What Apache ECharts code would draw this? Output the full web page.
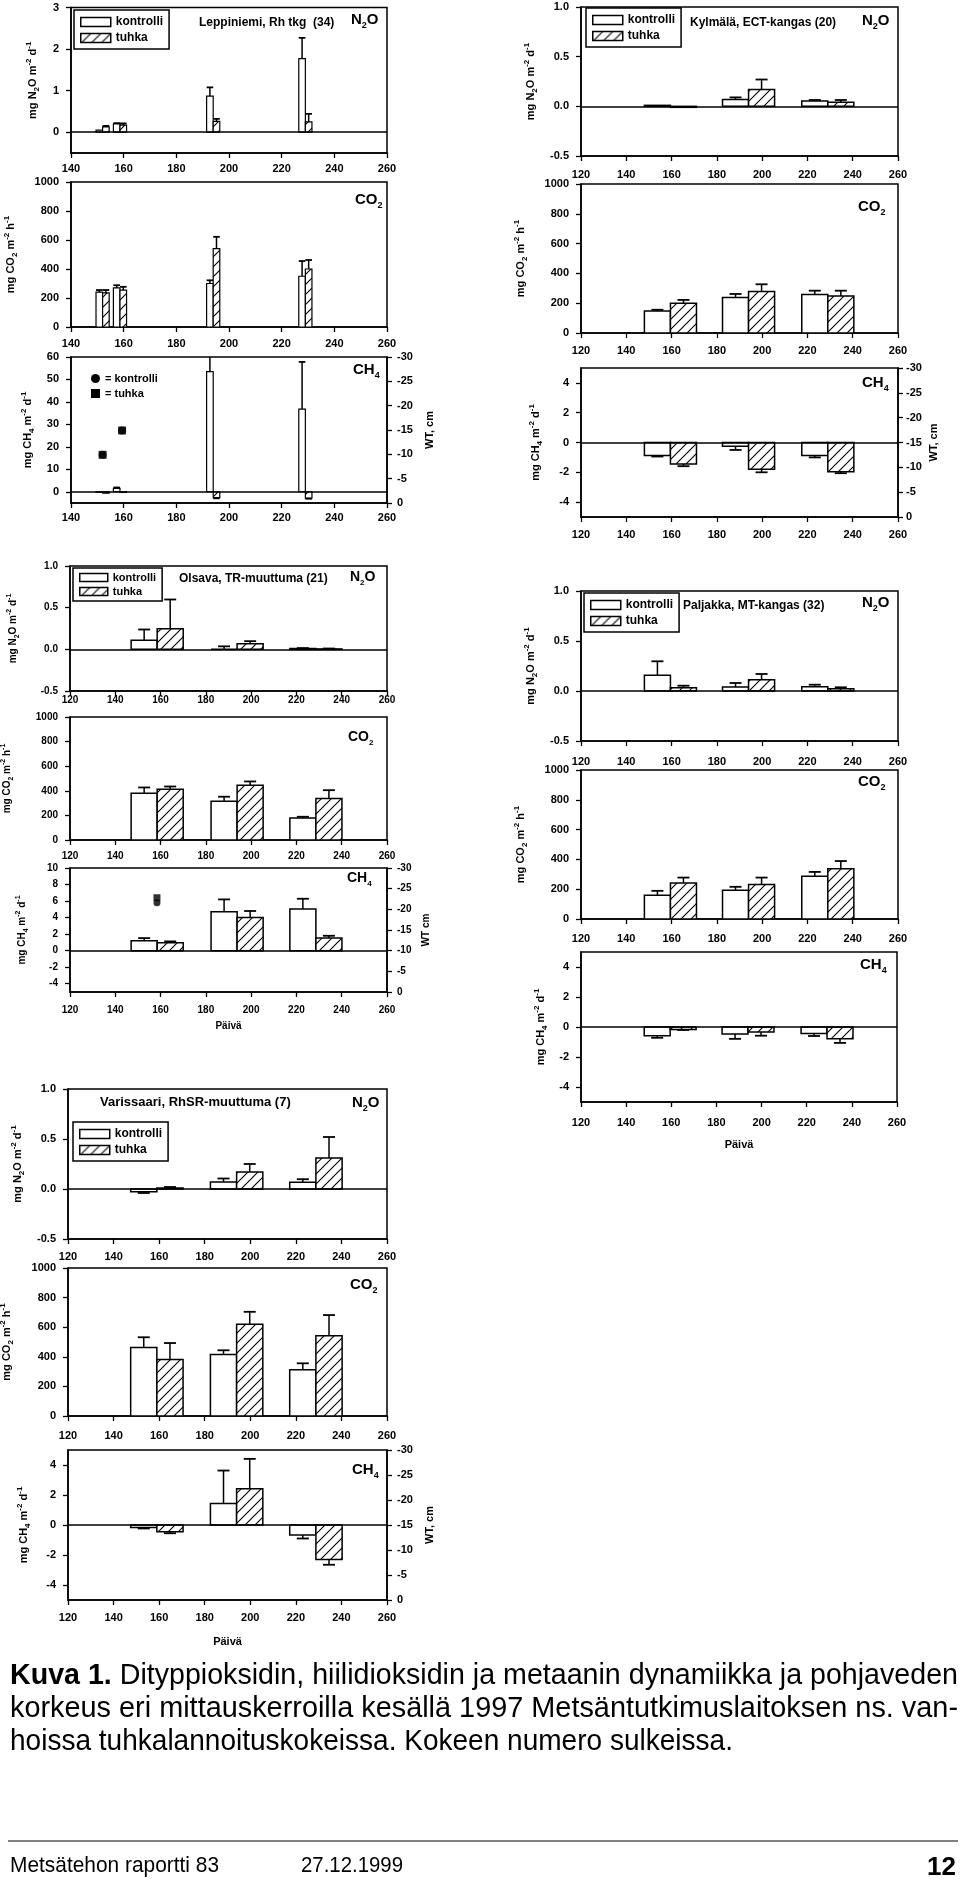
<!DOCTYPE html>
<html><head><meta charset="utf-8">
<script src="https://cdn.jsdelivr.net/npm/echarts@6/dist/echarts.min.js"></script>
<style>html,body{margin:0;padding:0;background:#fff}#c{width:960px;height:1880px}</style>
</head><body><div id="c"></div>
<script>
// ---------- tick labels ----------
const X_LEP = [140,160,180,200,220,240,260];
const X_STD = [120,140,160,180,200,220,240,260];
const Y_N2O_LEP = [0,1,2,3];
const Y_N2O = [-0.5,0,0.5,1];
const Y_CO2 = [0,200,400,600,800,1000];
const Y_CH4_LEP = [0,10,20,30,40,50,60];
const Y_CH4 = [-4,-2,0,2,4];
const Y_CH4_OLS = [-4,-2,0,2,4,6,8,10];
const Y_WT = [-30,-25,-20,-15,-10,-5,0];

// ---------- Leppiniemi, Rh tkg (34) ----------
const lepDays = [152, 158.6, 194, 229];
const lepN2O_k = [0.05, 0.20, 0.87, 1.77];
const lepN2O_kErr = [0, 0.02, 0.21, 0.50];
const lepN2O_t = [0.13, 0.17, 0.26, 0.25];
const lepN2O_tErr = [0.02, 0.04, 0.06, 0.19];
const lepCO2_k = [240, 270, 300, 350];
const lepCO2_kErr = [15, 18, 22, 105];
const lepCO2_t = [235, 255, 540, 400];
const lepCO2_tErr = [20, 22, 82, 62];
const lepCH4_k = [-0.2, 1.5, 53.5, 36.8];
const lepCH4_kErr = [0, 0.4, 12, 21];
const lepCH4_t = [-0.6, -0.3, -2.6, -2.8];
const lepCH4_tErr = [0, 0, 0.3, 0.3];
const lepWTDays = [152, 159.4];
const lepWT_k = [-9.9, -14.9];
const lepWT_t = [-9.9, -14.9];

// ---------- Kylmälä, ECT-kangas (20) ----------
const kylDays = [159.5, 194, 229];
const kylN2O_k = [0.01, 0.068, 0.054];
const kylN2O_kErr = [0, 0.022, 0.01];
const kylN2O_t = [-0.01, 0.17, 0.04];
const kylN2O_tErr = [0, 0.10, 0.024];
const kylCO2_k = [147, 238, 258];
const kylCO2_kErr = [9, 24, 26];
const kylCO2_t = [200, 278, 249];
const kylCO2_tErr = [22, 49, 35];
const kylCH4_k = [-0.88, -0.25, -0.88];
const kylCH4_kErr = [0.06, 0.25, 0.12];
const kylCH4_t = [-1.44, -1.8, -1.96];
const kylCH4_tErr = [0.15, 0.2, 0.1];

// ---------- Olsava, TR-muuttuma (21) ----------
const olsDays = [158.5, 193.8, 228.6];
const olsN2O_k = [0.108, 0.0, 0.01];
const olsN2O_kErr = [0.13, 0.036, 0.005];
const olsN2O_t = [0.248, 0.068, 0.005];
const olsN2O_tErr = [0.35, 0.03, 0.005];
const olsCO2_k = [380, 316, 178];
const olsCO2_kErr = [47, 36, 11];
const olsCO2_t = [413, 446, 338];
const olsCO2_tErr = [22, 30, 67];
const olsCH4_k = [1.2, 4.72, 5.04];
const olsCH4_kErr = [0.32, 1.48, 1.24];
const olsCH4_t = [0.96, 4.0, 1.52];
const olsCH4_tErr = [0.16, 0.8, 0.28];
const olsWTDays = [158.4];
const olsWT_k = [-21.6];
const olsWT_t = [-22.8];

// ---------- Paljakka, MT-kangas (32) ----------
const palDays = [159.5, 194, 229];
const palN2O_k = [0.157, 0.04, 0.043];
const palN2O_kErr = [0.14, 0.04, 0.02];
const palN2O_t = [0.033, 0.113, 0.023];
const palN2O_tErr = [0.02, 0.057, 0.014];
const palCO2_k = [160, 193, 287];
const palCO2_kErr = [29, 23, 29];
const palCO2_t = [242, 231, 338];
const palCO2_tErr = [36, 47, 51];
const palCH4_k = [-0.58, -0.47, -0.43];
const palCH4_kErr = [0.14, 0.32, 0.17];
const palCH4_t = [-0.16, -0.34, -0.79];
const palCH4_tErr = [0.04, 0.24, 0.27];

// ---------- Varissaari, RhSR-muuttuma (7) ----------
const varDays = [159, 194, 228.8];
const varN2O_k = [-0.027, 0.07, 0.068];
const varN2O_kErr = [0.013, 0.035, 0.03];
const varN2O_t = [0.01, 0.17, 0.31];
const varN2O_tErr = [0.01, 0.08, 0.21];
const varCO2_k = [463, 416, 313];
const varCO2_kErr = [69, 28, 43];
const varCO2_t = [382, 620, 542];
const varCO2_tErr = [111, 84, 140];
const varCH4_k = [-0.16, 1.43, -0.66];
const varCH4_kErr = [0.07, 2.2, 0.24];
const varCH4_t = [-0.45, 2.41, -2.3];
const varCH4_tErr = [0.1, 2.0, 0.35];

// ---------- texts ----------
const NAME_N2O = '{n|mg N}{b|2}{n|O m}{t|-2}{n| d}{t|-1}';
const NAME_CO2 = '{n|mg CO}{b|2}{n| m}{t|-2}{n| h}{t|-1}';
const NAME_CH4 = '{n|mg CH}{b|4}{n| m}{t|-2}{n| d}{t|-1}';
const GAS_N2O = '{n|N}{b|2}{n|O}';
const GAS_CO2 = '{n|CO}{b|2}';
const GAS_CH4 = '{n|CH}{b|4}';
const captionLines = [
  ['Kuva 1.', ' Dityppioksidin, hiilidioksidin ja metaanin dynamiikka ja pohjaveden'],
  ['', 'korkeus eri mittauskerroilla kesällä 1997 Metsäntutkimuslaitoksen ns. van-'],
  ['', 'hoissa tuhkalannoituskokeissa. Kokeen numero sulkeissa.']
];

// ---------- styling helpers ----------
const FONT = '"Liberation Sans", Arial, Helvetica, sans-serif';
const hatch = (function(){
  const c = document.createElement('canvas'); c.width = 10; c.height = 10;
  const g = c.getContext('2d');
  g.fillStyle = '#fff'; g.fillRect(0,0,10,10);
  g.strokeStyle = '#000'; g.lineWidth = 1.1; g.beginPath();
  g.moveTo(0,10); g.lineTo(10,0);
  g.moveTo(-2,2); g.lineTo(2,-2);
  g.moveTo(8,12); g.lineTo(12,8);
  g.stroke(); return c;
})();
const hatchFill = {image: hatch, repeat: 'repeat'};

function rich(fs, sfs){
  const lh = fs + 5;
  return {
    n:{fontSize:fs, fontWeight:'bold', fontFamily:FONT, color:'#000', lineHeight:lh, verticalAlign:'middle'},
    b:{fontSize:sfs, fontWeight:'bold', fontFamily:FONT, color:'#000', lineHeight:sfs+1, verticalAlign:'bottom'},
    t:{fontSize:sfs, fontWeight:'bold', fontFamily:FONT, color:'#000', lineHeight:sfs+1, verticalAlign:'top'}
  };
}

const option = {animation:false, backgroundColor:'#fff', grid:[], xAxis:[], yAxis:[], series:[], title:[], legend:[], graphic:[]};

function barSeries(name, xi, yi, days, vals, errs, side, barDays, fill, bw){
  return {
    type:'custom', name, xAxisIndex:xi, yAxisIndex:yi, clip:true, z:3,
    data: days.map((d,i)=>[d, vals[i], errs[i]]),
    encode:{x:0, y:1},
    itemStyle:{color:fill, borderColor:'#000', borderWidth:bw},
    renderItem(params, api){
      const d = api.value(0), v = api.value(1), e = api.value(2);
      const x0 = side < 0 ? d - barDays : d, x1 = side < 0 ? d : d + barDays;
      const p0 = api.coord([x0, 0]), p1 = api.coord([x1, v]);
      const rx = Math.min(p0[0], p1[0]), ry = Math.min(p0[1], p1[1]);
      const w = Math.abs(p1[0]-p0[0]), h = Math.abs(p1[1]-p0[1]);
      const ch = [{type:'rect', shape:{x:rx, y:ry, width:w, height:h}, style:{fill:fill, stroke:'#000', lineWidth:bw}}];
      if (e > 0){
        const cx = rx + w/2;
        const pe = api.coord([(x0+x1)/2, v + (v < 0 ? -e : e)]);
        const cw = Math.min(6, w*0.5);
        ch.push({type:'line', shape:{x1:cx, y1:p1[1], x2:cx, y2:pe[1]}, style:{stroke:'#000', lineWidth:1.5}});
        ch.push({type:'line', shape:{x1:cx-cw, y1:pe[1], x2:cx+cw, y2:pe[1]}, style:{stroke:'#000', lineWidth:1.8}});
      }
      return {type:'group', children:ch};
    }
  };
}

function addPanel(p){
  const gi = option.grid.length;
  const fs = p.fs || 11;
  option.grid.push({left:p.left, top:p.top, width:p.width, height:p.height, show:true, borderColor:'#000', borderWidth:1.5,
    backgroundColor:'rgba(0,0,0,0)', containLabel:false, outerBoundsMode:'none'});
  const xi = option.xAxis.length;
  option.xAxis.push({
    type:'value', gridIndex:gi, min:p.xTicks[0], max:p.xTicks[p.xTicks.length-1],
    axisLine:{show:true, onZero:false, lineStyle:{color:'#000', width:1.5}},
    axisTick:{show:true, customValues:p.xTicks, length:5, lineStyle:{color:'#000', width:1.3}},
    axisLabel:{show:true, customValues:p.xTicks, color:'#000', fontFamily:FONT, fontWeight:'bold', fontSize:fs, margin:p.xMargin},
    splitLine:{show:false},
    name:p.xName || '', nameLocation:'middle', nameGap:p.xNameGap || 30,
    nameTextStyle:{color:'#000', fontFamily:FONT, fontWeight:'bold', fontSize:fs}
  });
  const yi = option.yAxis.length;
  option.yAxis.push({
    type:'value', gridIndex:gi, position:'left', min:p.yMin, max:p.yMax,
    axisLine:{show:true, onZero:false, lineStyle:{color:'#000', width:1.5}},
    axisTick:{show:true, customValues:p.yTicks, length:5, lineStyle:{color:'#000', width:1.3}},
    axisLabel:{show:true, customValues:p.yTicks, formatter:(v)=>Number(v).toFixed(p.dec), color:'#000', fontFamily:FONT, fontWeight:'bold', fontSize:fs, margin:12},
    splitLine:{show:false},
    name:p.yName, nameLocation:'middle', nameGap:p.nameGap, nameRotate:90,
    nameTextStyle:{fontSize:p.nfs || 11, fontWeight:'bold', fontFamily:FONT, color:'#000', rich:rich(p.nfs || 11, (p.nfs || 11)-3)}
  });
  let ri = null;
  if (p.right){
    ri = option.yAxis.length;
    option.yAxis.push({
      type:'value', gridIndex:gi, position:'right', min:-30, max:0, inverse:true,
      axisLine:{show:true, onZero:false, lineStyle:{color:'#000', width:1.5}},
      axisTick:{show:true, customValues:Y_WT, length:5, lineStyle:{color:'#000', width:1.3}},
      axisLabel:{show:true, customValues:Y_WT, color:'#000', fontFamily:FONT, fontWeight:'bold', fontSize:fs, margin:p.right.margin},
      splitLine:{show:false},
      name:p.right.name, nameLocation:'middle', nameGap:p.right.gap, nameRotate:90,
      nameTextStyle:{color:'#000', fontFamily:FONT, fontWeight:'bold', fontSize:p.nfs || 11}
    });
  }
  const bw = p.bw || 1.5;
  option.series.push(barSeries('kontrolli', xi, yi, p.days, p.k, p.kErr, -1, p.barDays, '#fff', bw));
  option.series.push(barSeries('tuhka', xi, yi, p.days, p.t, p.tErr, 1, p.barDays, hatchFill, bw));
  if (p.zero){
    option.series.push({type:'line', xAxisIndex:xi, yAxisIndex:yi, data:[], silent:true, z:4,
      markLine:{silent:true, symbol:['none','none'], label:{show:false}, animation:false,
        lineStyle:{color:'#000', width:1.5, type:'solid'}, emphasis:{disabled:true}, data:[{yAxis:0}]}});
  }
  if (p.wt){
    option.series.push({type:'scatter', name:'kontrolli', xAxisIndex:xi, yAxisIndex:ri, symbol:'circle', symbolSize:p.wt.size,
      itemStyle:{color:'#000'}, z:5, data:p.wt.days.map((d,i)=>[d, p.wt.k[i]])});
    option.series.push({type:'scatter', name:'tuhka', xAxisIndex:xi, yAxisIndex:ri, symbol:'rect', symbolSize:p.wt.size,
      itemStyle:{color:'#000'}, z:6, data:p.wt.days.map((d,i)=>[d, p.wt.t[i]])});
  }
  option.title.push({text:p.gas, left:p.gx, top:p.gy, padding:0,
    textStyle:{fontSize:p.gfs || 15, fontWeight:'bold', fontFamily:FONT, color:'#000', rich:rich(p.gfs || 15, (p.gfs || 15)-6)}});
  if (p.site){
    option.title.push({text:p.site, left:p.sx, top:p.sy, padding:0,
      textStyle:{fontSize:p.sfs || 12, fontWeight:'bold', fontFamily:FONT, color:'#000'}});
  }
  if (p.legend){
    const L = p.legend;
    option.legend.push({
      orient:'vertical', left:L.left, top:L.top, itemWidth:L.iw || 30, itemHeight:L.ih || 9, itemGap:L.gap || 4,
      padding:L.pad || [6,6,5,6], borderColor:'#000', borderWidth:1.5, backgroundColor:'#fff', selectedMode:false,
      textStyle:{fontFamily:FONT, fontWeight:'bold', fontSize:L.fs || 12, color:'#000', padding:[0,0,0,0]},
      data:[
        {name:'kontrolli', icon:'rect', itemStyle:{color:'#fff', borderColor:'#000', borderWidth:1.5}},
        {name:'tuhka', icon:'rect', itemStyle:{color:hatchFill, borderColor:'#000', borderWidth:1.5}}
      ]
    });
  }
  if (p.markLegend){
    const L = p.markLegend;
    option.legend.push({
      orient:'vertical', left:L.left, top:L.top, itemWidth:9, itemHeight:9, itemGap:4, padding:0, selectedMode:false,
      formatter:'= {name}',
      textStyle:{fontFamily:FONT, fontWeight:'bold', fontSize:11, color:'#000'},
      data:[
        {name:'kontrolli', icon:'circle', itemStyle:{color:'#000', borderWidth:0}},
        {name:'tuhka', icon:'rect', itemStyle:{color:'#000', borderWidth:0}}
      ]
    });
  }
}

// ---------- Leppiniemi ----------
addPanel({left:71, top:7.5, width:316, height:145.5, xTicks:X_LEP, yMin:-0.5, yMax:3, yTicks:Y_N2O_LEP, dec:0,
  yName:NAME_N2O, nameGap:30, xMargin:10, days:lepDays, k:lepN2O_k, kErr:lepN2O_kErr, t:lepN2O_t, tErr:lepN2O_tErr,
  barDays:2.5, bw:1.2, zero:true, gas:GAS_N2O, gx:351, gy:10, site:'Leppiniemi, Rh tkg  (34)', sx:199, sy:17,
  legend:{left:74, top:10}});
addPanel({left:71, top:182, width:316, height:145, xTicks:X_LEP, yMin:0, yMax:1000, yTicks:Y_CO2, dec:0,
  yName:NAME_CO2, nameGap:52, xMargin:11, days:lepDays, k:lepCO2_k, kErr:lepCO2_kErr, t:lepCO2_t, tErr:lepCO2_tErr,
  barDays:2.5, bw:1.2, gas:GAS_CO2, gx:355, gy:190});
addPanel({left:71, top:357, width:316, height:146, xTicks:X_LEP, yMin:-5, yMax:60, yTicks:Y_CH4_LEP, dec:0,
  yName:NAME_CH4, nameGap:35, xMargin:9, days:lepDays, k:lepCH4_k, kErr:lepCH4_kErr, t:lepCH4_t, tErr:lepCH4_tErr,
  barDays:2.5, bw:1.2, zero:true, gas:GAS_CH4, gx:353, gy:360,
  right:{name:'WT, cm', gap:37, margin:10}, wt:{days:lepWTDays, k:lepWT_k, t:lepWT_t, size:8},
  markLegend:{left:91, top:373}});

// ---------- Kylmälä ----------
addPanel({left:581, top:7, width:317, height:149, xTicks:X_STD, yMin:-0.5, yMax:1, yTicks:Y_N2O, dec:1,
  yName:NAME_N2O, nameGap:42, xMargin:13, days:kylDays, k:kylN2O_k, kErr:kylN2O_kErr, t:kylN2O_t, tErr:kylN2O_tErr,
  barDays:11.5, zero:true, gas:GAS_N2O, gx:862, gy:11, site:'Kylmälä, ECT-kangas (20)', sx:690, sy:17,
  legend:{left:586, top:8}});
addPanel({left:581, top:184, width:317, height:149, xTicks:X_STD, yMin:0, yMax:1000, yTicks:Y_CO2, dec:0,
  yName:NAME_CO2, nameGap:52, xMargin:12, days:kylDays, k:kylCO2_k, kErr:kylCO2_kErr, t:kylCO2_t, tErr:kylCO2_tErr,
  barDays:11.5, gas:GAS_CO2, gx:858, gy:197});
addPanel({left:581, top:368, width:317, height:149, xTicks:X_STD, yMin:-5, yMax:5, yTicks:Y_CH4, dec:0,
  yName:NAME_CH4, nameGap:37, xMargin:12, days:kylDays, k:kylCH4_k, kErr:kylCH4_kErr, t:kylCH4_t, tErr:kylCH4_tErr,
  barDays:11.5, zero:true, gas:GAS_CH4, gx:862, gy:373, right:{name:'WT, cm', gap:30, margin:8}});

// ---------- Olsava ----------
addPanel({left:70, top:566, width:317, height:125, xTicks:X_STD, yMin:-0.5, yMax:1, yTicks:Y_N2O, dec:1, fs:10, nfs:10,
  yName:NAME_N2O, nameGap:49, xMargin:4, days:olsDays, k:olsN2O_k, kErr:olsN2O_kErr, t:olsN2O_t, tErr:olsN2O_tErr,
  barDays:11.5, zero:true, gas:GAS_N2O, gfs:14, gx:350, gy:568, site:'Olsava, TR-muuttuma (21)', sfs:12, sx:179, sy:573,
  legend:{left:73, top:568, iw:28, ih:8, gap:3, pad:[4,6,4,6], fs:11}});
addPanel({left:70, top:717, width:317, height:123, xTicks:X_STD, yMin:0, yMax:1000, yTicks:Y_CO2, dec:0, fs:10, nfs:10,
  yName:NAME_CO2, nameGap:55, xMargin:11, days:olsDays, k:olsCO2_k, kErr:olsCO2_kErr, t:olsCO2_t, tErr:olsCO2_tErr,
  barDays:11.5, gas:GAS_CO2, gfs:14, gx:348, gy:728});
addPanel({left:70, top:868, width:317, height:124, xTicks:X_STD, yMin:-5, yMax:10, yTicks:Y_CH4_OLS, dec:0, fs:10, nfs:10,
  yName:NAME_CH4, nameGap:40, xMargin:13, xName:'Päivä', xNameGap:29,
  days:olsDays, k:olsCH4_k, kErr:olsCH4_kErr, t:olsCH4_t, tErr:olsCH4_tErr,
  barDays:11.5, zero:true, gas:GAS_CH4, gfs:14, gx:347, gy:869,
  right:{name:'WT cm', gap:34, margin:10}, wt:{days:olsWTDays, k:olsWT_k, t:olsWT_t, size:7}});

// ---------- Paljakka ----------
addPanel({left:581, top:591, width:317, height:150, xTicks:X_STD, yMin:-0.5, yMax:1, yTicks:Y_N2O, dec:1,
  yName:NAME_N2O, nameGap:42, xMargin:15, days:palDays, k:palN2O_k, kErr:palN2O_kErr, t:palN2O_t, tErr:palN2O_tErr,
  barDays:11.5, zero:true, gas:GAS_N2O, gx:862, gy:593, site:'Paljakka, MT-kangas (32)', sx:683, sy:600,
  legend:{left:584, top:593}});
addPanel({left:581, top:770, width:317, height:149, xTicks:X_STD, yMin:0, yMax:1000, yTicks:Y_CO2, dec:0,
  yName:NAME_CO2, nameGap:52, xMargin:14, days:palDays, k:palCO2_k, kErr:palCO2_kErr, t:palCO2_t, tErr:palCO2_tErr,
  barDays:11.5, gas:GAS_CO2, gx:858, gy:772});
addPanel({left:581, top:952, width:316, height:150, xTicks:X_STD, yMin:-5, yMax:5, yTicks:Y_CH4, dec:0,
  yName:NAME_CH4, nameGap:32, xMargin:15, xName:'Päivä', xNameGap:37,
  days:palDays, k:palCH4_k, kErr:palCH4_kErr, t:palCH4_t, tErr:palCH4_tErr,
  barDays:11.5, zero:true, gas:GAS_CH4, gx:860, gy:955});

// ---------- Varissaari ----------
addPanel({left:68, top:1089, width:319, height:150, xTicks:X_STD, yMin:-0.5, yMax:1, yTicks:Y_N2O, dec:1,
  yName:NAME_N2O, nameGap:42, xMargin:12, days:varDays, k:varN2O_k, kErr:varN2O_kErr, t:varN2O_t, tErr:varN2O_tErr,
  barDays:11.5, zero:true, gas:GAS_N2O, gx:352, gy:1093, site:'Varissaari, RhSR-muuttuma (7)', sfs:13, sx:100, sy:1096,
  legend:{left:73, top:1122}});
addPanel({left:68, top:1268, width:319, height:148, xTicks:X_STD, yMin:0, yMax:1000, yTicks:Y_CO2, dec:0,
  yName:NAME_CO2, nameGap:53, xMargin:14, days:varDays, k:varCO2_k, kErr:varCO2_kErr, t:varCO2_t, tErr:varCO2_tErr,
  barDays:11.5, gas:GAS_CO2, gx:350, gy:1275});
addPanel({left:68, top:1450, width:319, height:150, xTicks:X_STD, yMin:-5, yMax:5, yTicks:Y_CH4, dec:0,
  yName:NAME_CH4, nameGap:36, xMargin:12, xName:'Päivä', xNameGap:36,
  days:varDays, k:varCH4_k, kErr:varCH4_kErr, t:varCH4_t, tErr:varCH4_tErr,
  barDays:11.5, zero:true, gas:GAS_CH4, gx:352, gy:1460, right:{name:'WT, cm', gap:37, margin:10}});

// ---------- caption & footer ----------
const CAPFONT = '"Liberation Sans", Arial, Helvetica, sans-serif';
const mctx = document.createElement('canvas').getContext('2d');
function tw(str, weight, size){ mctx.font = weight + ' ' + size + 'px ' + CAPFONT; return mctx.measureText(str).width; }
const capSize = 29;
const capTargets = [948, 948, 723];
const capY = [1676, 1709, 1742];
captionLines.forEach((ln, i) => {
  const w = tw(ln[0], 'bold', capSize) + tw(ln[1], 'normal', capSize);
  const txt = (ln[0] ? '{b|' + ln[0] + '}' : '') + '{r|' + ln[1] + '}';
  option.graphic.push({type:'text', x:10, y:capY[i], scaleX:capTargets[i]/w, silent:true,
    style:{text:txt, verticalAlign:'middle', align:'left', fill:'#000',
      rich:{b:{fontWeight:'bold', fontSize:capSize, fontFamily:CAPFONT, fill:'#000'},
            r:{fontWeight:'normal', fontSize:capSize, fontFamily:CAPFONT, fill:'#000'}}}});
});
option.graphic.push({type:'line', silent:true, shape:{x1:8, y1:1841, x2:958, y2:1841}, style:{stroke:'#000', lineWidth:1}});
const foot1 = 'Metsätehon raportti 83', foot2 = '27.12.1999', foot3 = '12';
option.graphic.push({type:'text', x:10, y:1866, scaleX:209/tw(foot1,'normal',22), silent:true,
  style:{text:foot1, fontSize:22, fontFamily:CAPFONT, fill:'#000', verticalAlign:'middle'}});
option.graphic.push({type:'text', x:301, y:1866, scaleX:102/tw(foot2,'normal',22), silent:true,
  style:{text:foot2, fontSize:22, fontFamily:CAPFONT, fill:'#000', verticalAlign:'middle'}});
option.graphic.push({type:'text', x:956, y:1868, silent:true,
  style:{text:foot3, fontSize:26, fontWeight:'bold', fontFamily:CAPFONT, fill:'#000', align:'right', verticalAlign:'middle'}});

const chart = echarts.init(document.getElementById('c'), null, {renderer:'canvas', width:960, height:1880});
chart.setOption(option);
</script></body></html>
